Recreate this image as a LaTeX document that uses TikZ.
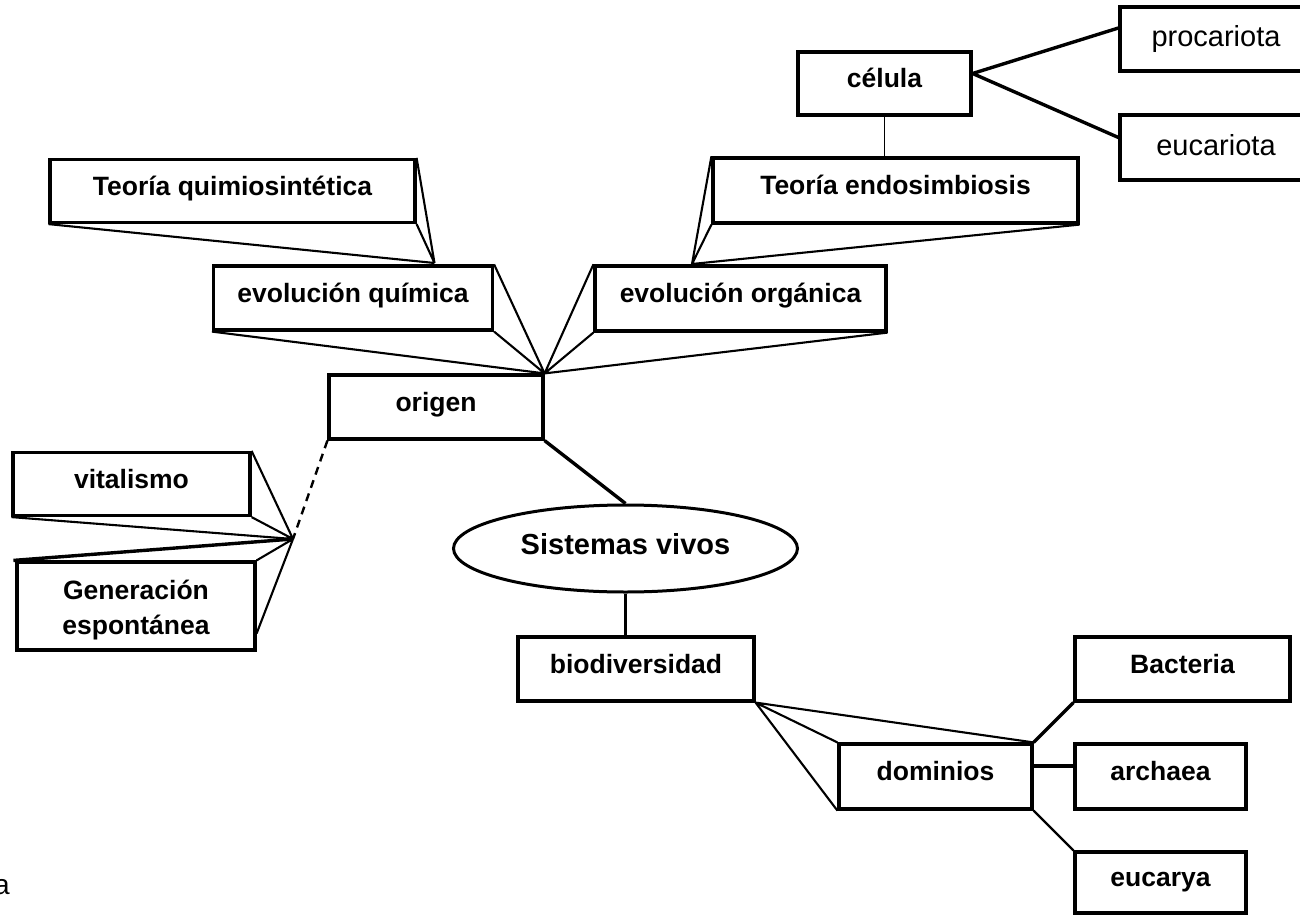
\documentclass[tikz,border=0pt]{standalone}
\usepackage{fontspec}
\setmainfont{Liberation Sans}
\usetikzlibrary{shapes.geometric,calc}

\begin{document}
\begin{tikzpicture}[x=1pt,y=-1pt,
  box/.style={draw, line width=3.2pt, inner sep=0pt,
    text height=17pt, text depth=9pt,
    font=\bfseries\fontsize{26.5}{32}\selectfont},
  plainbox/.style={draw, line width=3.2pt, inner sep=0pt,
    text height=21pt, text depth=6pt,
    font=\fontsize{29}{34}\selectfont},
  boldtext/.style={inner sep=0pt, anchor=base,
    font=\bfseries\fontsize{26.5}{32}\selectfont},
  link/.style={line width=2.1pt},
  heavy/.style={line width=3.4pt},
  hint/.style={line width=2.4pt, dash pattern=on 8pt off 6pt}
]
\useasboundingbox (0,0) rectangle (1300,915);

% upper branch: origin of life
\node[box, minimum width=365pt, minimum height=63pt] (tq) at (232.5,191) {Teoría quimiosintética};
\node[box, minimum width=279pt, minimum height=64pt] (eq) at (353,298) {evolución química};
\node[box, minimum width=214pt, minimum height=64pt] (og) at (436,407) {origen};
\node[box, minimum width=291pt, minimum height=65pt] (eo) at (740.5,298.5) {evolución orgánica};
\node[box, minimum width=365pt, minimum height=65pt] (te) at (895.5,190.5) {Teoría endosimbiosis};
\node[box, minimum width=173pt, minimum height=63pt] (ce) at (884.5,83.5) {célula};
\node[plainbox, minimum width=192pt, minimum height=64pt] (pr) at (1216,39) {procariota};
\node[plainbox, minimum width=192pt, minimum height=65pt] (eu) at (1216,147.5) {eucariota};

% older ideas
\node[box, minimum width=237pt, minimum height=63pt] (vi) at (131.5,484) {vitalismo};
\node[draw, line width=3.2pt, inner sep=0pt, minimum width=238pt, minimum height=88pt] (ge) at (136,606) {};
\node[boldtext] (ge1) at (136,599) {Generación};
\node[boldtext] (ge2) at (136,634) {espontánea};

% central concept
\node[ellipse, draw, line width=3pt, inner sep=0pt, minimum width=344pt, minimum height=87pt,
  text height=17pt, text depth=6pt, font=\bfseries\fontsize{29}{34}\selectfont]
  (sv) at (625.5,548.5) {Sistemas vivos};

% lower branch: diversity
\node[box, minimum width=236pt, minimum height=64pt] (bd) at (636,669) {biodiversidad};
\node[box, minimum width=193pt, minimum height=65pt] (dm) at (935.5,776.5) {dominios};
\node[box, minimum width=215pt, minimum height=64pt] (ba) at (1182.5,669) {Bacteria};
\node[box, minimum width=171pt, minimum height=65pt] (ar) at (1160.5,776.5) {archaea};
\node[box, minimum width=171pt, minimum height=61pt] (ey) at (1160.5,882.5) {eucarya};

\node[anchor=base west, inner sep=0pt, font=\fontsize{28}{32}\selectfont] (stray) at (-6,894) {a};

% meeting points of the fanned connectors
\coordinate (cq) at (434.5,263);
\coordinate (ct) at (692,264);
\coordinate (cv) at (293,539);

% fans
\draw[link] (tq.north east) -- (cq) (tq.south east) -- (cq) (tq.south west) -- (cq);
\draw[link] (eq.north east) -- (og.north east) (eq.south east) -- (og.north east) (eq.south west) -- (og.north east);
\draw[link] (eo.north west) -- (og.north east) (eo.south west) -- (og.north east) (eo.south east) -- (og.north east);
\draw[link] (te.north west) -- (ct) (te.south west) -- (ct) (te.south east) -- (ct);
\draw[line width=1.6pt] (ce.south) -- (ce.south |- te.north);
\draw[heavy] ([yshift=10pt]ce.east) -- ([yshift=11pt]pr.west);
\draw[heavy] ([yshift=10pt]ce.east) -- ([yshift=10pt]eu.west);

\draw[hint] (og.south west) -- (cv);
\draw[link] (vi.north east) -- (cv) (vi.south east) -- (cv) (vi.south west) -- (cv);
\draw[heavy] ([xshift=-2pt]ge.north west) -- (cv);
\draw[link] (ge.north east) -- (cv) ([yshift=-27.5pt]ge.east) -- (cv);

\draw[heavy] (og.south east) -- (sv.north);
\draw[line width=3pt] (sv.south) -- (sv.south |- bd.north);

\draw[link] (bd.south east) -- (dm.north west) (bd.south east) -- (dm.south west) (bd.south east) -- (dm.north east);
\draw[heavy] (dm.north east) -- (ba.south west);
\draw[line width=4.2pt] ([yshift=10.5pt]dm.east) -- ([yshift=10.5pt]ar.west);
\draw[line width=2.4pt] (dm.south east) -- (ey.north west);
\end{tikzpicture}
\end{document}
